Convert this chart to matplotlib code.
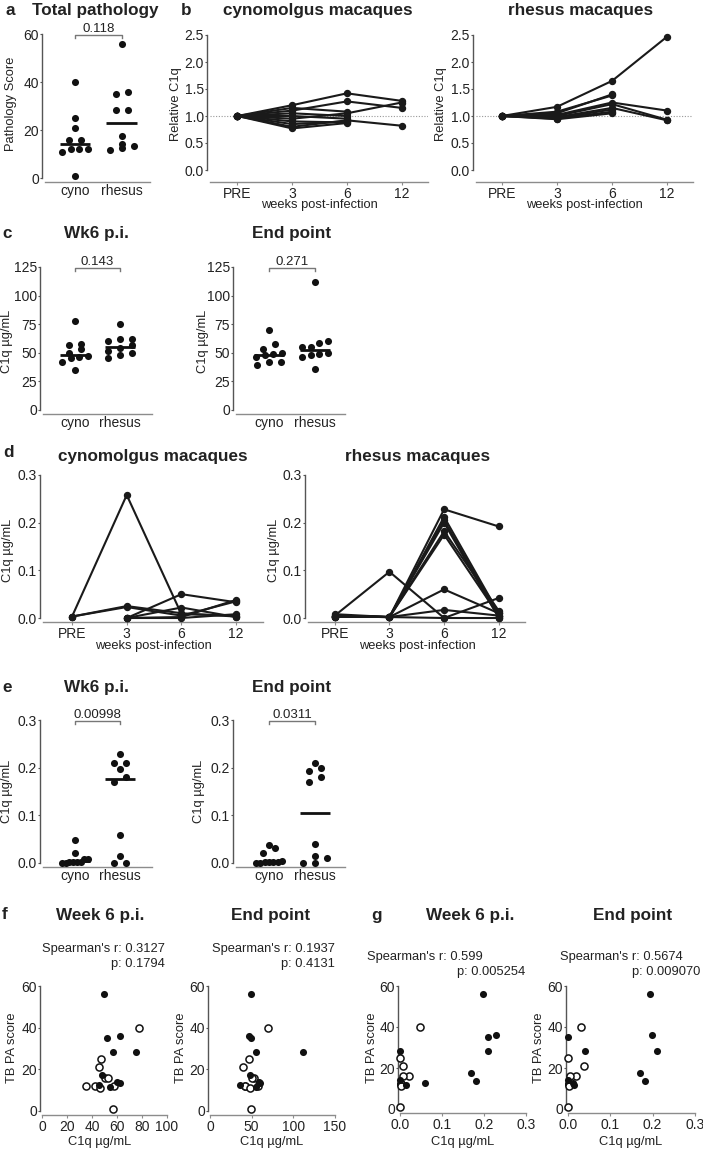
import matplotlib
matplotlib.use("Agg")
import matplotlib.pyplot as plt
import numpy as np
from matplotlib.ticker import FormatStrFormatter

plt.rcParams['font.family'] = ['Liberation Sans', 'DejaVu Sans']
plt.rcParams['text.color'] = '#222222'

nan = np.nan
W, H = 703, 1149
PT = 0.72  # points per pixel at 100 dpi

species = ['cyno', 'rhesus']
timepoints = ['PRE', '3', '6', '12']

# per-animal values (same animal order in every array of a species)
cyno_path = [40, 25, 21, 16, 16, 12, 12, 12, 11, 1]
rhesus_path = [56, 36, 35, 28.5, 28.5, 17.5, 14, 13.5, 11.5, 12.5]

# serum C1q, ug/mL
cyno_wk6_serum = [77.5, 47, 45.5, 50, 53, 35, 42, 57.5, 46, 56.5]
rhesus_wk6_serum = [49.5, 62, 52, 56.5, 75, 48, 60, 62, 54.5, 45.5]
cyno_end_serum = [70, 46.5, 39, 53, 50, 42, 42, 57.5, 48, 49]
rhesus_end_serum = [49.5, 46.5, 49, 55, 112, 48.5, 59, 60, 55.5, 36]

# BAL C1q, ug/mL
cyno_wk6_bal = [0.048, 0.001, 0.008, 0.021, 0.008, 0.003, 0.003, 0.002, 0.003, 0.001]
rhesus_wk6_bal = [0.197, 0.228, 0.21, 0.21, 0.0, 0.17, 0.0, 0.181, 0.015, 0.059]
cyno_end_bal = [0.031, 0.001, 0.038, 0.02, 0.004, 0.003, 0.003, 0.002, 0.002, 0.001]
rhesus_end_bal = [0.193, 0.199, 0.0, 0.04, 0.21, 0.17, 0.0, 0.181, 0.015, 0.011]

# relative serum C1q over time (PRE, wk3, wk6, wk12)
cyno_rel = [
    [1, 1.20, 1.42, 1.28],
    [1, 1.10, 1.27, 1.15],
    [1, 0.95, 1.05, 1.25],
    [1, 0.80, 0.92, 0.82],
    [1, 1.15, 1.08, nan],
    [1, 1.05, 1.00, nan],
    [1, 1.00, 0.95, nan],
    [1, 0.90, 0.88, nan],
    [1, 0.85, 0.90, nan],
    [1, 0.77, 0.87, nan],
]
rhesus_rel = [
    [1, 1.17, 1.65, 2.47],
    [1, 1.08, 1.38, nan],
    [1, 1.05, 1.40, nan],
    [1, 1.02, 1.25, 1.10],
    [1, 1.00, 1.22, 0.93],
    [1, 0.98, 1.15, 0.92],
    [1, 0.96, 1.12, nan],
    [1, 0.95, 1.08, nan],
    [1, 0.94, 1.05, nan],
]

# BAL C1q over time, ug/mL
cyno_bal_time = [
    [0.003, 0.258, 0.008, 0.005],
    [0.003, 0.025, 0.010, 0.003],
    [0.003, 0.023, 0.005, 0.035],
    [nan, 0.0, 0.050, 0.033],
    [nan, 0.0, 0.022, 0.002],
    [nan, 0.0, 0.002, 0.038],
    [nan, 0.0, 0.0, 0.008],
]
rhesus_bal_time = [
    [0.005, 0.097, 0.0, 0.042],
    [0.008, 0.002, 0.228, 0.192],
    [0.005, 0.002, 0.212, 0.010],
    [0.005, 0.002, 0.205, 0.005],
    [0.005, 0.002, 0.200, 0.0],
    [0.003, 0.002, 0.182, 0.015],
    [0.003, 0.002, 0.175, 0.005],
    [0.003, 0.002, 0.060, 0.010],
    [0.003, 0.002, 0.017, 0.005],
    [0.003, 0.002, 0.0, 0.0],
]

fig = plt.figure(figsize=(W / 100, H / 100), dpi=100)


def add_ax(l, t, r, b):
    return fig.add_axes([l / W, 1 - b / H, (r - l) / W, (b - t) / H])


def ftext(x, y, s, **kw):
    fig.text(x / W, 1 - y / H, s, **kw)


def style(ax, left_out=3, bottom_out=4, xtick_len=0):
    for s in ['top', 'right']:
        ax.spines[s].set_visible(False)
    ax.spines['left'].set_position(('outward', left_out * PT))
    ax.spines['bottom'].set_position(('outward', bottom_out * PT))
    ax.spines['left'].set_color('#555555')
    ax.spines['bottom'].set_color('#8c8c8c')
    ax.spines['left'].set_linewidth(1)
    ax.spines['bottom'].set_linewidth(1)
    ax.tick_params(axis='y', length=2 * PT, width=0.8, color='#555555',
                   labelsize=10, pad=1.2 * PT, labelcolor='#222222')
    ax.tick_params(axis='x', length=xtick_len * PT, width=0.8, color='#8c8c8c',
                   labelsize=10, pad=2 * PT, labelcolor='#222222')
    ax.patch.set_visible(False)


def swarm_offsets(ax, values, gap=6, step=12, span=26):
    ppu_y = ax.bbox.height / np.diff(ax.get_ylim())[0]
    ppu_x = ax.bbox.width / np.diff(ax.get_xlim())[0]
    order = np.argsort(values, kind='stable')
    offsets = np.zeros(len(values))
    rows = []
    for i in order:
        if rows and (values[i] - values[rows[-1][0]]) * ppu_y < gap - 1e-6:
            rows[-1].append(i)
        else:
            rows.append([i])
    for row in rows:
        n = len(row)
        if n > 1:
            d = min(step, span / (n - 1))
            for k, i in enumerate(row):
                offsets[i] = (k - (n - 1) / 2) * d / ppu_x
    return offsets


def bracket(ax, x0, x1, label):
    h = ax.bbox.height
    tr = ax.get_xaxis_transform()
    yl = 1 - 1 / h
    ax.plot([x0, x0, x1, x1], [yl - 3 / h, yl, yl, yl - 3 / h], color='#777777',
            lw=1, transform=tr, clip_on=False)
    ax.text((x0 + x1) / 2, yl + 3 / h, label, transform=tr, ha='center',
            va='baseline', fontsize=9.5)


def column_panel(rect, xlim, groups, ylim, yticks, fmt=None, pval=None, zero_line=False):
    ax = add_ax(*rect)
    ax.set_xlim(xlim)
    ax.set_ylim(ylim)
    style(ax, 3, 4)
    if zero_line:
        ax.axhline(0, color='#999999', ls=(0, (1, 2)), lw=0.8)
    for i, vals in enumerate(groups):
        vals = np.asarray(vals, float)
        off = swarm_offsets(ax, vals)
        ax.scatter(i + off, vals, s=26, color='#111111', lw=0, clip_on=False, zorder=3)
        med = np.median(vals)
        ax.plot([i - 0.33, i + 0.33], [med, med], color='#111111', lw=2,
                solid_capstyle='butt', zorder=4)
    ax.set_xticks(range(len(groups)))
    ax.set_xticklabels(species)
    ax.set_yticks(yticks)
    if fmt:
        ax.yaxis.set_major_formatter(FormatStrFormatter(fmt))
    if pval:
        bracket(ax, 0, 1, pval)
    return ax


def line_panel(rect, xlim, lines, ylim, yticks, fmt, bottom_out, ref=None):
    ax = add_ax(*rect)
    ax.set_xlim(xlim)
    ax.set_ylim(ylim)
    style(ax, 3, bottom_out, xtick_len=3)
    if ref is not None:
        ax.axhline(ref, color='#999999', ls=(0, (1, 1.5)), lw=0.8)
    for vals in lines:
        ax.plot(range(len(timepoints)), vals, '-o', color='#1a1a1a', lw=1.5,
                ms=4.3, clip_on=False, zorder=3)
    ax.set_xticks(range(len(timepoints)))
    ax.set_xticklabels(timepoints)
    ax.set_yticks(yticks)
    ax.yaxis.set_major_formatter(FormatStrFormatter(fmt))
    return ax


def corr_panel(rect, xlim, xticks, xfmt, cyno_x, rhesus_x):
    ax = add_ax(*rect)
    ax.set_xlim(xlim)
    ax.set_ylim(0, 60)
    style(ax, 2, 4, xtick_len=3)
    ax.scatter(cyno_x, cyno_path, s=26, facecolor='white', edgecolor='#111111',
               lw=1.1, clip_on=False, zorder=3)
    ax.scatter(rhesus_x, rhesus_path, s=26, color='#111111', lw=0,
               clip_on=False, zorder=3)
    ax.set_xticks(xticks)
    if xfmt:
        ax.xaxis.set_major_formatter(FormatStrFormatter(xfmt))
    ax.set_yticks([0, 20, 40, 60])
    return ax


title_kw = dict(fontsize=12.3, fontweight='bold', ha='center', va='baseline')
lab_kw = dict(fontsize=9.3, ha='center', va='center')

# ---- a
column_panel((45, 34, 150, 178), (-0.64, 1.6), [cyno_path, rhesus_path],
             (0, 60), [0, 20, 40, 60], pval='0.118')
ftext(10, 15, 'a', **title_kw)
ftext(95, 15, 'Total pathology', **title_kw)
ftext(11, 104, 'Pathology Score', rotation=90, **lab_kw)

# ---- b
line_panel((210, 35, 428, 170), (-0.5, 3.48), cyno_rel, (0, 2.5),
           np.arange(0, 2.6, 0.5), '%.1f', 12, ref=1.0)
line_panel((476, 35, 693, 170), (-0.47, 3.47), rhesus_rel, (0, 2.5),
           np.arange(0, 2.6, 0.5), '%.1f', 12, ref=1.0)
ftext(186, 15, 'b', **title_kw)
ftext(318, 15, 'cynomolgus macaques', **title_kw)
ftext(581, 15, 'rhesus macaques', **title_kw)
ftext(176, 104, 'Relative C1q', rotation=90, **lab_kw)
ftext(441, 104, 'Relative C1q', rotation=90, **lab_kw)
ftext(319, 205, 'weeks post-infection', **lab_kw)
ftext(584, 205, 'weeks post-infection', **lab_kw)

# ---- c
column_panel((43, 267, 152, 410), (-0.71, 1.71), [cyno_wk6_serum, rhesus_wk6_serum],
             (0, 125), [0, 25, 50, 75, 100, 125], pval='0.143')
column_panel((236, 267, 345, 410), (-0.72, 1.65), [cyno_end_serum, rhesus_end_serum],
             (0, 125), [0, 25, 50, 75, 100, 125], pval='0.271')
ftext(7, 238, 'c', **title_kw)
ftext(96, 238, 'Wk6 p.i.', **title_kw)
ftext(292, 238, 'End point', **title_kw)
ftext(7, 341, 'C1q µg/mL', rotation=90, **lab_kw)
ftext(203, 341, 'C1q µg/mL', rotation=90, **lab_kw)

# ---- d
line_panel((43, 475, 263, 618), (-0.53, 3.49), cyno_bal_time, (0, 0.3),
           [0, 0.1, 0.2, 0.3], '%.1f', 4)
line_panel((308, 475, 525, 618), (-0.49, 3.48), rhesus_bal_time, (0, 0.3),
           [0, 0.1, 0.2, 0.3], '%.1f', 4)
ftext(8, 457, 'd', **title_kw)
ftext(153, 461, 'cynomolgus macaques', **title_kw)
ftext(418, 461, 'rhesus macaques', **title_kw)
ftext(8, 550, 'C1q µg/mL', rotation=90, **lab_kw)
ftext(274, 550, 'C1q µg/mL', rotation=90, **lab_kw)
ftext(153, 646, 'weeks post-infection', **lab_kw)
ftext(417, 646, 'weeks post-infection', **lab_kw)

# ---- e
column_panel((43, 720, 152, 863), (-0.71, 1.71), [cyno_wk6_bal, rhesus_wk6_bal],
             (0, 0.3), [0, 0.1, 0.2, 0.3], fmt='%.1f', pval='0.00998', zero_line=True)
column_panel((236, 720, 345, 863), (-0.72, 1.65), [cyno_end_bal, rhesus_end_bal],
             (0, 0.3), [0, 0.1, 0.2, 0.3], fmt='%.1f', pval='0.0311')
ftext(7, 692, 'e', **title_kw)
ftext(96, 692, 'Wk6 p.i.', **title_kw)
ftext(292, 692, 'End point', **title_kw)
ftext(7, 791, 'C1q µg/mL', rotation=90, **lab_kw)
ftext(199, 791, 'C1q µg/mL', rotation=90, **lab_kw)

# ---- f
corr_panel((42, 986, 167, 1111), (0, 100), [0, 20, 40, 60, 80, 100], None,
           cyno_wk6_serum, rhesus_wk6_serum)
corr_panel((210, 986, 335, 1111), (0, 150), [0, 50, 100, 150], None,
           cyno_end_serum, rhesus_end_serum)
ftext(5, 919, 'f', **title_kw)
ftext(100, 920, 'Week 6 p.i.', **title_kw)
ftext(271, 920, 'End point', **title_kw)
sp_kw = dict(fontsize=9.3, ha='right', va='baseline')
ftext(165, 952, "Spearman's r: 0.3127", **sp_kw)
ftext(165, 967, 'p: 0.1794', **sp_kw)
ftext(335, 952, "Spearman's r: 0.1937", **sp_kw)
ftext(335, 967, 'p: 0.4131', **sp_kw)
ftext(12, 1048, 'TB PA score', rotation=90, **lab_kw)
ftext(181, 1048, 'TB PA score', rotation=90, **lab_kw)
ftext(100, 1142, 'C1q µg/mL', **lab_kw)
ftext(272, 1142, 'C1q µg/mL', **lab_kw)

# ---- g
corr_panel((400, 986, 526, 1109), (0, 0.3), [0, 0.1, 0.2, 0.3], '%.1f',
           cyno_wk6_bal, rhesus_wk6_bal)
corr_panel((568, 986, 695, 1109), (0, 0.3), [0, 0.1, 0.2, 0.3], '%.1f',
           cyno_end_bal, rhesus_end_bal)
ftext(377, 920, 'g', **title_kw)
ftext(470, 920, 'Week 6 p.i.', **title_kw)
ftext(633, 920, 'End point', **title_kw)
ftext(483, 960, "Spearman's r: 0.599", **sp_kw)
ftext(525, 975, 'p: 0.005254', **sp_kw)
ftext(683, 960, "Spearman's r: 0.5674", **sp_kw)
ftext(700, 975, 'p: 0.009070', **sp_kw)
ftext(372, 1048, 'TB PA score', rotation=90, **lab_kw)
ftext(539, 1048, 'TB PA score', rotation=90, **lab_kw)
ftext(463, 1142, 'C1q µg/mL', **lab_kw)
ftext(631, 1142, 'C1q µg/mL', **lab_kw)

fig.savefig('out.png', dpi=100)
